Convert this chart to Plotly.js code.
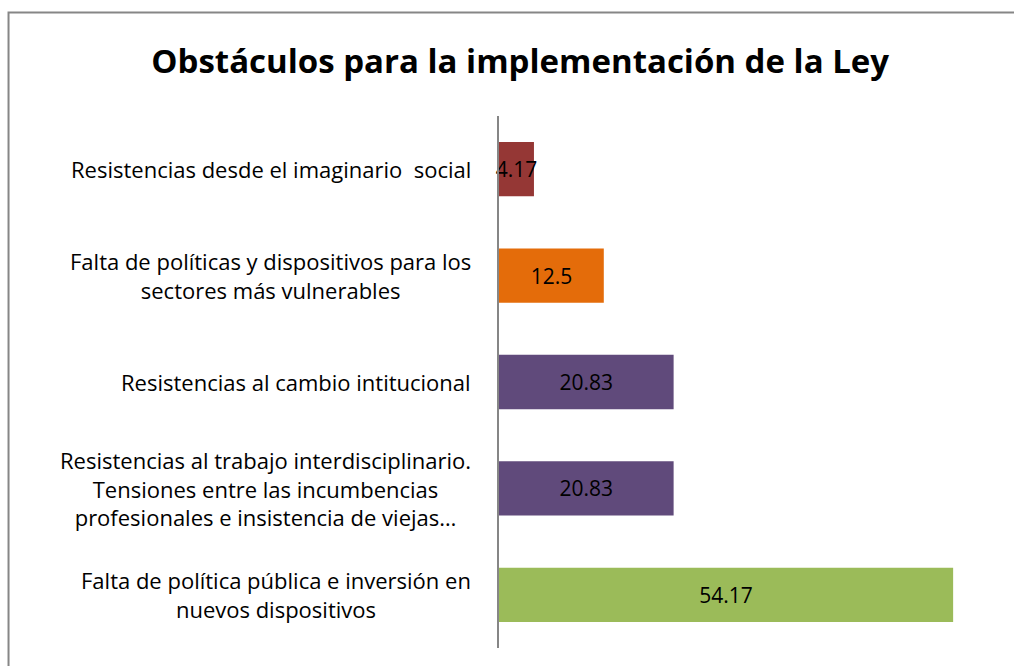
<!DOCTYPE html>
<html>
<head>
<meta charset="utf-8">
<script src="https://cdn.plot.ly/plotly-3.0.1.min.js"></script>
<style>html,body{margin:0;padding:0;background:#fff;}#chart{width:1014px;height:666px;}</style>
</head>
<body>
<div id="chart"></div>
<script>
// Data (top to bottom)
const categories = [
  "Resistencias desde el imaginario  social",
  "Falta de políticas y dispositivos para los<br>sectores más vulnerables",
  "Resistencias al cambio intitucional",
  "Resistencias al trabajo interdisciplinario.<br>Tensiones entre las incumbencias<br>profesionales e insistencia de viejas…",
  "Falta de política pública e inversión en<br>nuevos dispositivos"
];
const values = [4.17, 12.5, 20.83, 20.83, 54.17];
const valueLabels = ["4.17", "12.5", "20.83", "20.83", "54.17"];
const barColors = ["#953735", "#E46C0A", "#604A7B", "#604A7B", "#9BBB59"];
const chartTitle = "Obstáculos para la implementación de la Ley";

const FONT = "'Open Sans', sans-serif";

const trace = {
  type: "bar",
  orientation: "h",
  y: categories,
  x: values,
  text: valueLabels,
  textposition: "inside",
  insidetextanchor: "middle",
  textangle: 0,
  constraintext: "none",
  textfont: {family: FONT, size: 21, color: "#000"},
  marker: {color: barColors},
  width: 0.51,
  hoverinfo: "none",
  cliponaxis: false
};

const annotations = categories.map((c) => ({
  xref: "paper", yref: "y",
  x: -0.052, y: c,
  xanchor: "right", yanchor: "middle",
  align: "center",
  text: c,
  showarrow: false,
  font: {family: FONT, size: 22, color: "#000"}
}));

const layout = {
  width: 1014, height: 666,
  margin: {l: 499, r: 12, t: 116, b: 18, pad: 0},
  paper_bgcolor: "#fff",
  plot_bgcolor: "#fff",
  showlegend: false,
  title: {
    text: "<b>" + chartTitle + "</b>",
    font: {family: FONT, size: 33, color: "#000"},
    x: 0.513, xanchor: "center",
    y: 0.907, yanchor: "middle"
  },
  xaxis: {
    range: [0, 60],
    visible: false,
    fixedrange: true
  },
  yaxis: {
    autorange: "reversed",
    showticklabels: false,
    ticks: "",
    showgrid: false,
    zeroline: false,
    showline: true,
    linecolor: "#868686",
    linewidth: 2,
    fixedrange: true
  },
  annotations: annotations,
  shapes: [{
    type: "rect", xref: "paper", yref: "paper",
    x0: -0.9751, x1: 1.2, y0: -0.2, y1: 1.1945,
    line: {color: "#868686", width: 2},
    fillcolor: "rgba(0,0,0,0)",
    layer: "below"
  }]
};

Plotly.newPlot("chart", [trace], layout, {displayModeBar: false, staticPlot: true});
</script>
</body>
</html>
